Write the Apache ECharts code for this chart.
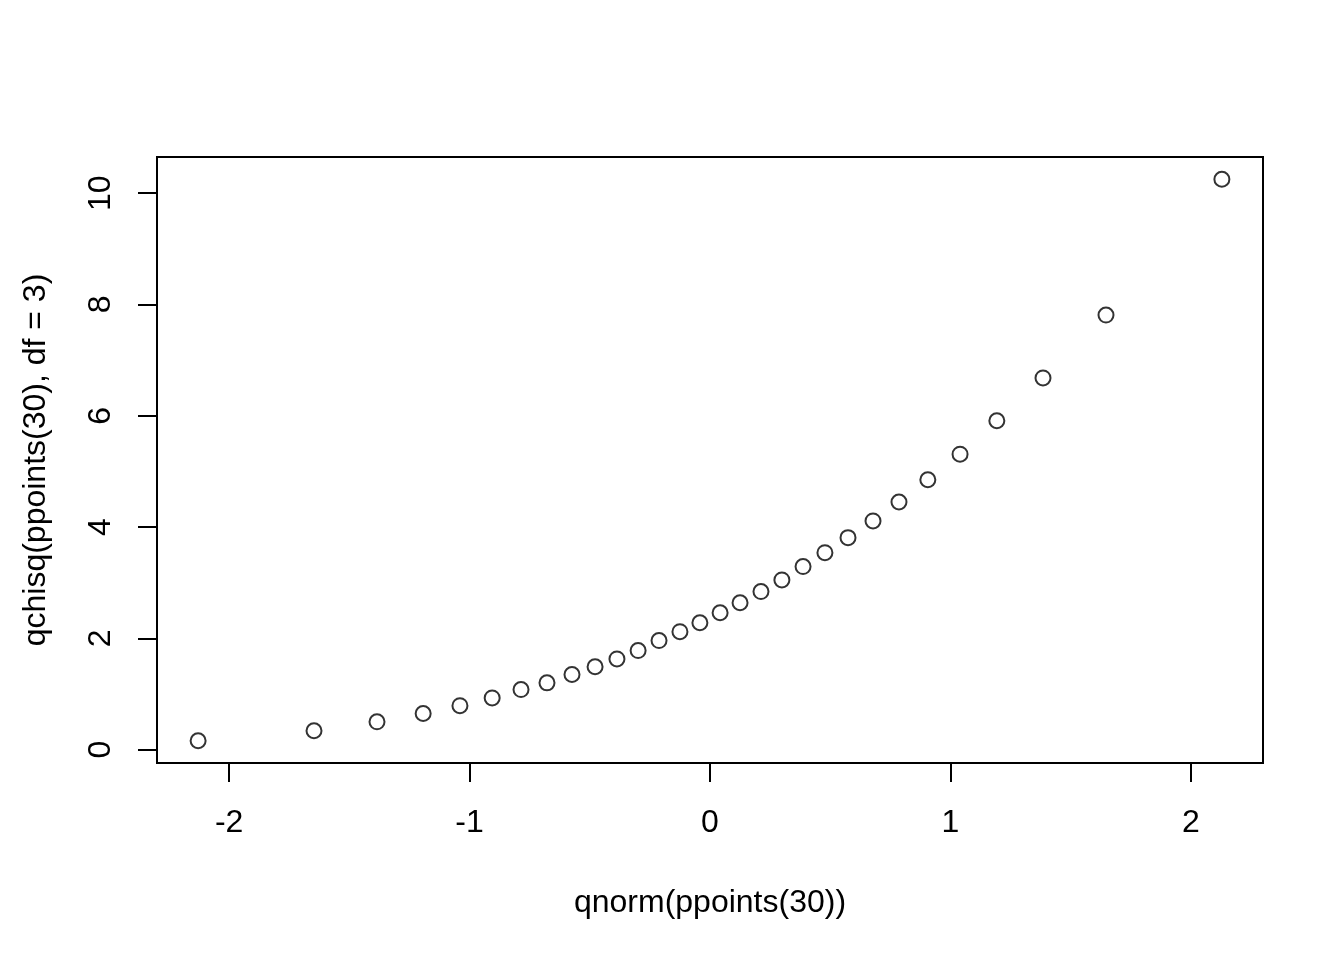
<!DOCTYPE html>
<html>
<head>
<meta charset="utf-8">
<script src="https://cdn.jsdelivr.net/npm/echarts@6/dist/echarts.min.js"></script>
<style>html,body{margin:0;padding:0;background:#fff;}#c{width:1344px;height:960px;}</style>
</head>
<body>
<div id="c"></div>
<script>
// Values
const xValues = [-2.129, -1.647, -1.385, -1.193, -1.040, -0.906, -0.786, -0.678, -0.574, -0.478,
                 -0.387, -0.299, -0.212, -0.125, -0.042, 0.042, 0.125, 0.212, 0.299, 0.387,
                 0.478, 0.574, 0.678, 0.786, 0.906, 1.040, 1.193, 1.385, 1.647, 2.129];
const yValues = [0.16, 0.34, 0.50, 0.65, 0.79, 0.93, 1.08, 1.20, 1.35, 1.49,
                 1.63, 1.78, 1.96, 2.12, 2.28, 2.46, 2.64, 2.84, 3.05, 3.29,
                 3.54, 3.81, 4.11, 4.45, 4.85, 5.31, 5.91, 6.68, 7.81, 10.25];
const xTicks = [-2, -1, 0, 1, 2];
const yTicks = [0, 2, 4, 6, 8, 10];
const xTitle = 'qnorm(ppoints(30))';
const yTitle = 'qchisq(ppoints(30), df = 3)';

const points = xValues.map((x, i) => [x, yValues[i]]);
const font = '"Liberation Sans", Arial, Helvetica, sans-serif';

const chart = echarts.init(document.getElementById('c'), null, {renderer: 'canvas'});
chart.setOption({
  backgroundColor: '#ffffff',
  animation: false,
  grid: {left: 157, right: 81, top: 157, bottom: 197, show: true,
         borderColor: '#000', borderWidth: 2, backgroundColor: 'transparent'},
  xAxis: {
    type: 'value', min: -2.3, max: 2.3,
    name: xTitle, nameLocation: 'middle', nameGap: 124,
    nameTextStyle: {color: '#000', fontSize: 32, fontFamily: font},
    axisLine: {show: false, onZero: false},
    splitLine: {show: false},
    axisTick: {show: true, inside: false, length: 19, customValues: xTicks,
               lineStyle: {color: '#000', width: 2}},
    axisLabel: {show: true, customValues: xTicks, margin: 44, color: '#000',
                fontSize: 32, fontFamily: font}
  },
  yAxis: {
    type: 'value', min: -0.24, max: 10.65,
    name: yTitle, nameLocation: 'middle', nameGap: 105,
    nameTextStyle: {color: '#000', fontSize: 32, fontFamily: font},
    axisLine: {show: false, onZero: false},
    splitLine: {show: false},
    axisTick: {show: true, inside: false, length: 19, customValues: yTicks,
               lineStyle: {color: '#000', width: 2}},
    axisLabel: {show: true, customValues: yTicks, margin: 40, rotate: 90, color: '#000',
                fontSize: 32, fontFamily: font}
  },
  series: [{
    type: 'scatter',
    data: points,
    symbol: 'circle',
    symbolSize: 15,
    itemStyle: {color: 'rgba(0,0,0,0)', borderColor: '#000', borderWidth: 2},
    emphasis: {disabled: true}
  }]
});
</script>
</body>
</html>
